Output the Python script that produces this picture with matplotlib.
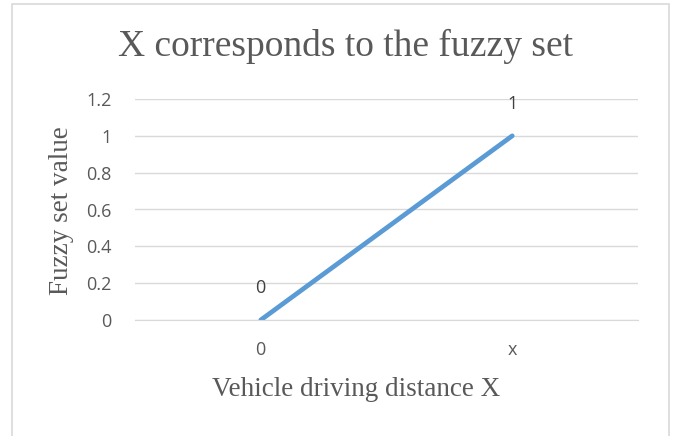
import matplotlib
matplotlib.use("Agg")
import matplotlib.pyplot as plt
from matplotlib.patches import Rectangle

categories = ["0", "x"]
values = [0, 1]
data_labels = ["0", "1"]
yticks = [0, 0.2, 0.4, 0.6, 0.8, 1.0, 1.2]
ytick_labels = ["0", "0.2", "0.4", "0.6", "0.8", "1", "1.2"]
title = "X corresponds to the fuzzy set"
xlabel = "Vehicle driving distance X"
ylabel = "Fuzzy set value"

W, H = 678, 436
fig = plt.figure(figsize=(W / 100, H / 100), dpi=100)
fig.patch.set_facecolor("white")

# chart border
fig.patches.append(Rectangle((11.5 / W, -0.05), (669 - 11.5) / W, 1.05 - 4 / H,
                             transform=fig.transFigure, fill=False,
                             edgecolor="#D9D9D9", linewidth=1.2))

ax = fig.add_axes([135 / W, 1 - 320 / H, (638 - 135) / W, (320 - 99) / H])
xpos = list(range(len(categories)))
ax.plot(xpos, values, color="#5B9BD5", linewidth=3.4, solid_capstyle="round")
ax.set_xlim(-0.5, len(categories) - 0.5)
ax.set_ylim(0, 1.2)
ax.set_yticks(yticks)
ax.set_yticklabels(ytick_labels)
ax.set_xticks(xpos)
ax.set_xticklabels(categories)
ax.grid(axis="y", color="#D9D9D9", linewidth=1)
ax.set_axisbelow(True)
for s in ["top", "right", "left"]:
    ax.spines[s].set_visible(False)
ax.spines["bottom"].set_color("#D9D9D9")
ax.tick_params(axis="both", length=0, labelsize=13, labelcolor="#595959")
ax.tick_params(axis="y", pad=17)
ax.tick_params(axis="x", pad=15)
for lbl in ax.get_xticklabels() + ax.get_yticklabels():
    lbl.set_family("Open Sans")

for xi, v, t in zip(xpos, values, data_labels):
    ax.annotate(t, (xi, v), xytext=(0, 32), textcoords="offset pixels",
                ha="center", va="center", fontsize=13, color="#404040",
                family="Open Sans")

fig.text(345.5 / W, 1 - 56 / H, title, ha="center", va="baseline",
         fontsize=27, color="#595959", family="Liberation Serif")
fig.text(356 / W, 1 - 396 / H, xlabel, ha="center", va="baseline",
         fontsize=19.5, color="#595959", family="Liberation Serif")
fig.text(62 / W, 1 - 211 / H, ylabel, ha="center", va="center", rotation=90,
         fontsize=19.5, color="#595959", family="Liberation Serif")

fig.savefig("out.png", dpi=100)
